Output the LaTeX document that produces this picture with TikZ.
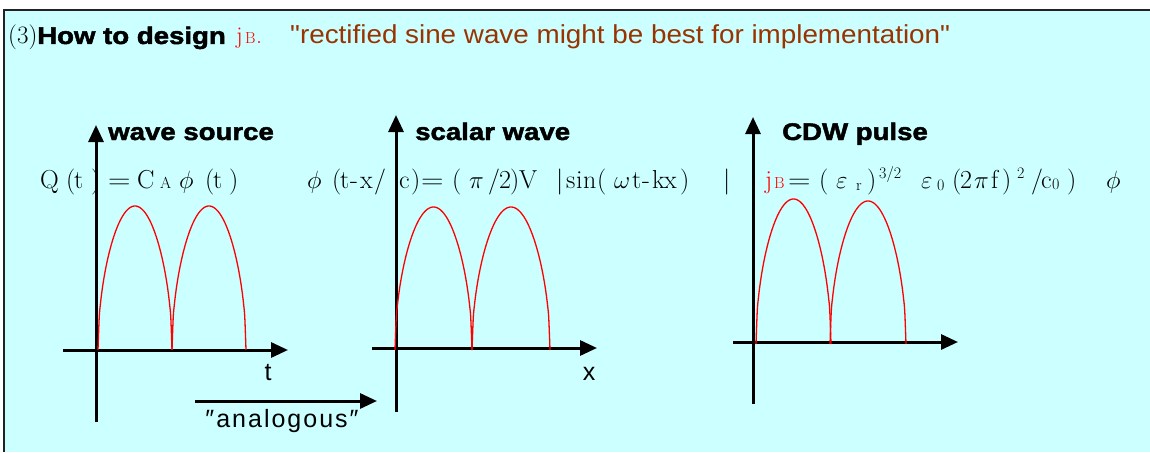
\documentclass[tikz,border=0pt]{standalone}
\usepackage{fontspec}
\usetikzlibrary{arrows.meta}
\newfontfamily\arial{Liberation Sans}
\newfontfamily\arialsp[LetterSpace=8]{Liberation Sans}
\newfontfamily\arialw[FakeStretch=1.07]{Liberation Sans}
\newfontfamily\arialb[FakeStretch=1.15,FakeBold=2]{Liberation Sans Bold}
\definecolor{bgcyan}{HTML}{CCFFFF}
\definecolor{titlebrown}{HTML}{993300}
\definecolor{framegray}{HTML}{222222}
\newcommand\humpdraw[4]{\draw[hump] plot[domain=0:180,samples=61,smooth] ({#1+(#2-#1)*\x/180},{#3-#4*sqrt(abs(sin(\x)))});}
% place a piece of text at a horizontal offset inside a formula
\newcommand\pa[2]{\makebox[0pt][l]{\hspace*{#1pt}#2}}
\newcommand\sm[1]{{\fontsize{16}{18}\selectfont #1}}
\newcommand\weq{\scalebox{1.2}[1]{=}}
\begin{document}
\begin{tikzpicture}[x=1pt,y=-1pt,
  axis/.style={line width=3pt,-{Triangle[length=17pt,width=15pt]}},
  hump/.style={red,line width=1.3pt},
  formula/.style={anchor=base west,inner sep=0pt,font=\fontsize{26}{30}\selectfont},
  heading/.style={anchor=base west,inner sep=0pt,font=\arialb\fontsize{24}{28}\selectfont},
  axlabel/.style={anchor=base,inner sep=0pt,font=\arial\fontsize{25}{30}\selectfont}]
\useasboundingbox (0,0) rectangle (1150,452);
\fill[white] (0,0) rectangle (1150,452);
\fill[bgcyan] (4,10) rectangle (1150,452);
\draw[framegray,line width=2.5pt] (4,452) -- (4,10) -- (1150,10);
% title
\node[anchor=base west,inner sep=0pt,font=\fontsize{25}{28}\selectfont] (t1) at (8,44) {(3)};
\node[anchor=base west,inner sep=0pt,font=\arialb\fontsize{24}{28}\selectfont] (t2) at (37,44) {How to design};
\node[anchor=base west,inner sep=0pt,font=\fontsize{24}{28}\selectfont,text=red] (t3) at (236,44) {\pa{0}{j}\pa{9}{\sm{B}}\pa{20}{.}\hspace*{26pt}};
\node[anchor=base west,inner sep=0pt,font=\arialw\fontsize{26}{30}\selectfont,text=titlebrown] (t4) at (290,44) {"rectified sine wave might be best for implementation"};
% plot 1
\coordinate (a1b) at (96,422); \coordinate (a1t) at (96,125);
\coordinate (h1l) at (63,350); \coordinate (h1r) at (288,350);
\draw[axis] (a1b) -- (a1t);
\draw[axis] (h1l) -- (h1r);
\humpdraw{98}{172}{350}{144}
\humpdraw{172}{246}{350}{144}
\node[heading] (l1) at (108,140) {wave source};
\node[formula] (f1) at (40,188) {\pa{0}{Q}\pa{26}{(}\pa{34}{t}\pa{51}{)}\pa{68}{\weq}\pa{97}{C}\pa{120}{\sm{A}}\pa{139}{$\phi$}\pa{165}{(}\pa{173}{t}\pa{189}{)}\hspace*{198pt}};
\node[axlabel] (tl) at (268,380) {t};
% analogous
\coordinate (anl) at (195,401); \coordinate (anr) at (377,401);
\draw[axis] (anl) -- (anr);
\node[anchor=base,inner sep=0pt,font=\arialsp\fontsize{25}{30}\selectfont] (an) at (282,427) {″analogous″};
% plot 2
\coordinate (a2b) at (396,412); \coordinate (a2t) at (396,115);
\coordinate (h2l) at (372,348); \coordinate (h2r) at (597,348);
\draw[axis] (a2b) -- (a2t);
\draw[axis] (h2l) -- (h2r);
\humpdraw{395}{472}{350}{143}
\humpdraw{472}{550}{350}{143}
\node[heading] (l2) at (415,140) {scalar wave};
\node[formula] (f2) at (307,188) {\pa{0}{$\phi$}\pa{25}{(}\pa{33}{t}\pa{43}{-}\pa{53}{x}\pa{67}{/}\pa{92}{c}\pa{104}{)}\pa{114}{\weq}\pa{145}{(}\pa{162}{$\pi$}\pa{181}{/}\pa{192}{2}\pa{203}{)}\pa{212}{V}\pa{249}{|}\pa{259}{s}\pa{269}{i}\pa{276}{n}\pa{290}{(}\pa{307}{$\omega$}\pa{325}{t}\pa{335}{-}\pa{345}{k}\pa{357}{x}\pa{373}{)}\pa{416}{|}\hspace*{424pt}};
\node[axlabel] (xl) at (589,380) {x};
% plot 3
\coordinate (a3b) at (753,404); \coordinate (a3t) at (753,117);
\coordinate (h3l) at (733,342); \coordinate (h3r) at (958,342);
\draw[axis] (a3b) -- (a3t);
\draw[axis] (h3l) -- (h3r);
\humpdraw{756}{831}{344}{145}
\humpdraw{830}{906}{344}{143}
\node[heading] (l3) at (782,140) {CDW pulse};
\node[formula] (f3) at (765,188) {\pa{0}{\color{red}j}\pa{9}{\color{red}\sm{B}}\pa{23}{\weq}\pa{54}{(}\pa{71}{$\varepsilon$}\pa{91}{\raisebox{-2pt}{\sm{r}}}\pa{102}{)}\pa{114}{\raisebox{10pt}{\sm{3/2}}}\pa{156}{$\varepsilon$}\pa{172}{\raisebox{-2pt}{\sm{0}}}\pa{187}{(}\pa{195}{2}\pa{209}{$\pi$}\pa{226}{f}\pa{237}{)}\pa{252}{\raisebox{10pt}{\sm{2}}}\pa{266}{/}\pa{276}{c}\pa{287}{\raisebox{-1pt}{\sm{0}}}\pa{302}{)}\pa{341}{$\phi$}\hspace*{356pt}};
\end{tikzpicture}
\end{document}
